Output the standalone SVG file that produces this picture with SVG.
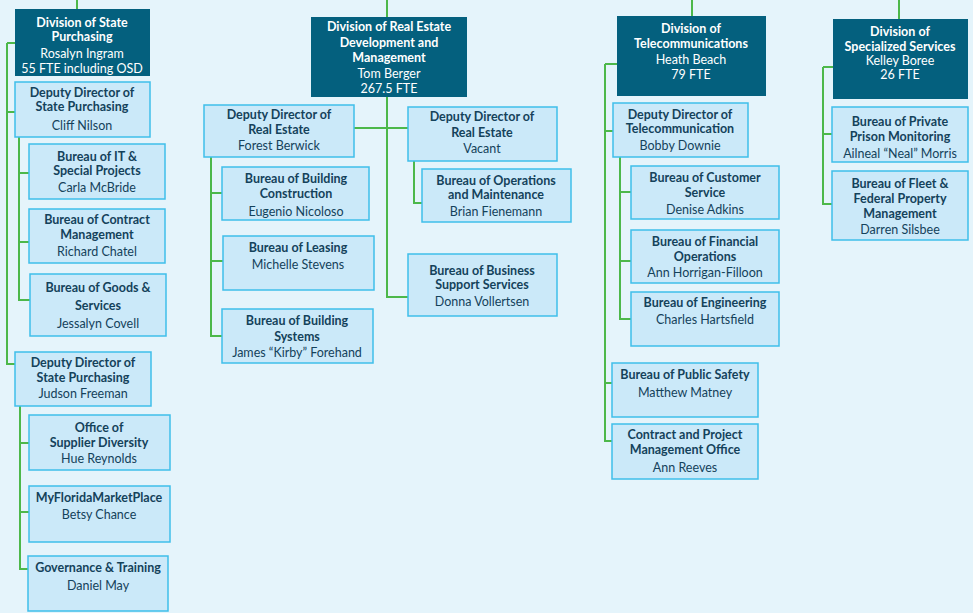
<svg xmlns="http://www.w3.org/2000/svg" width="973" height="613" viewBox="0 0 973 613">
<style>
.bg{fill:#e5f4fb}
.dv{fill:#04607e}
.bx{fill:#cbe9f9;stroke:#3fbeea;stroke-width:1.5}
text{font-family:Lato,"Open Sans","Liberation Sans",sans-serif;font-size:12.5px;text-anchor:middle;dominant-baseline:central}
.t{font-weight:bold;fill:#14425b}
.n{fill:#14425b}
.wt{font-weight:bold;fill:#ffffff}
.wn{fill:#ffffff}
.ln{fill:none;stroke:#4db84a;stroke-width:2}
</style>
<rect class="bg" x="0" y="0" width="973" height="613"/>
<g id="connectors">
<path class="ln" d="M77 0V9M7 43H15M7 43V364H15M7 112H15M19 137V300H30M19 173H29M19 242H29"/>
<path class="ln" d="M20 406V569H28M20 443H29M20 512H29"/>
<path class="ln" d="M387 0V17M387 97V297H408M354 128H408M211 157V336H222M211 193H222M211 261H223M414 161V203H422"/>
<path class="ln" d="M692 0V16M605 64H617M605 64V441H612M605 131H613M605 383H612M620 157V319H631M620 192H631M620 261H631"/>
<path class="ln" d="M899 0V19M823 67H833M823 67V204H832M823 134H832"/>
</g>
<g id="div-state-purchasing">
<rect class="dv" x="15" y="9" width="135" height="67"/>
<text class="wt" x="82" y="22">Division of State</text>
<text class="wt" x="82" y="36">Purchasing</text>
<text class="wn" x="82" y="53">Rosalyn Ingram</text>
<text class="wn" x="82" y="68">55 FTE including OSD</text>
</g>
<g id="dep-cliff">
<rect class="bx" x="15" y="82" width="135" height="55"/>
<text class="t" x="82" y="92">Deputy Director of</text>
<text class="t" x="82" y="106">State Purchasing</text>
<text class="n" x="82" y="125">Cliff Nilson</text>
</g>
<g id="bur-it">
<rect class="bx" x="29" y="144" width="136" height="55"/>
<text class="t" x="97" y="156">Bureau of IT &amp;</text>
<text class="t" x="97" y="170">Special Projects</text>
<text class="n" x="97" y="187">Carla McBride</text>
</g>
<g id="bur-contract">
<rect class="bx" x="29" y="209" width="136" height="54"/>
<text class="t" x="97" y="219">Bureau of Contract</text>
<text class="t" x="97" y="234">Management</text>
<text class="n" x="97" y="251">Richard Chatel</text>
</g>
<g id="bur-goods">
<rect class="bx" x="30" y="274" width="136" height="62"/>
<text class="t" x="98" y="287">Bureau of Goods &amp;</text>
<text class="t" x="98" y="305">Services</text>
<text class="n" x="98" y="323">Jessalyn Covell</text>
</g>
<g id="dep-judson">
<rect class="bx" x="15" y="352" width="136" height="54"/>
<text class="t" x="83" y="362">Deputy Director of</text>
<text class="t" x="83" y="377">State Purchasing</text>
<text class="n" x="83" y="393">Judson Freeman</text>
</g>
<g id="off-supplier">
<rect class="bx" x="29" y="415" width="141" height="55"/>
<text class="t" x="99" y="427">Office of</text>
<text class="t" x="99" y="442">Supplier Diversity</text>
<text class="n" x="99" y="458">Hue Reynolds</text>
</g>
<g id="mfmp">
<rect class="bx" x="29" y="486" width="141" height="56"/>
<text class="t" x="99" y="497">MyFloridaMarketPlace</text>
<text class="n" x="99" y="514">Betsy Chance</text>
</g>
<g id="governance">
<rect class="bx" x="28" y="556" width="140" height="55"/>
<text class="t" x="98" y="567">Governance &amp; Training</text>
<text class="n" x="98" y="585">Daniel May</text>
</g>
<g id="div-real-estate">
<rect class="dv" x="311" y="17" width="156" height="80"/>
<text class="wt" x="389" y="26">Division of Real Estate</text>
<text class="wt" x="389" y="42">Development and</text>
<text class="wt" x="389" y="57">Management</text>
<text class="wn" x="389" y="73">Tom Berger</text>
<text class="wn" x="389" y="88">267.5 FTE</text>
</g>
<g id="dep-forest">
<rect class="bx" x="204" y="105" width="150" height="52"/>
<text class="t" x="279" y="114">Deputy Director of</text>
<text class="t" x="279" y="129">Real Estate</text>
<text class="n" x="279" y="145">Forest Berwick</text>
</g>
<g id="bur-construction">
<rect class="bx" x="222" y="167" width="147" height="53"/>
<text class="t" x="296" y="178">Bureau of Building</text>
<text class="t" x="296" y="193">Construction</text>
<text class="n" x="296" y="211">Eugenio Nicoloso</text>
</g>
<g id="bur-leasing">
<rect class="bx" x="223" y="236" width="151" height="54"/>
<text class="t" x="298" y="247">Bureau of Leasing</text>
<text class="n" x="298" y="264">Michelle Stevens</text>
</g>
<g id="bur-systems">
<rect class="bx" x="222" y="309" width="151" height="54"/>
<text class="t" x="297" y="320">Bureau of Building</text>
<text class="t" x="297" y="336">Systems</text>
<text class="n" x="297" y="352">James “Kirby” Forehand</text>
</g>
<g id="dep-vacant">
<rect class="bx" x="408" y="107" width="149" height="54"/>
<text class="t" x="482" y="116">Deputy Director of</text>
<text class="t" x="482" y="132">Real Estate</text>
<text class="n" x="482" y="148">Vacant</text>
</g>
<g id="bur-ops">
<rect class="bx" x="422" y="169" width="149" height="53"/>
<text class="t" x="496" y="180">Bureau of Operations</text>
<text class="t" x="496" y="194">and Maintenance</text>
<text class="n" x="496" y="211">Brian Fienemann</text>
</g>
<g id="bur-business">
<rect class="bx" x="408" y="254" width="149" height="62"/>
<text class="t" x="482" y="270">Bureau of Business</text>
<text class="t" x="482" y="284">Support Services</text>
<text class="n" x="482" y="301">Donna Vollertsen</text>
</g>
<g id="div-telecom">
<rect class="dv" x="617" y="16" width="149" height="80"/>
<text class="wt" x="691" y="28">Division of</text>
<text class="wt" x="691" y="43">Telecommunications</text>
<text class="wn" x="691" y="59">Heath Beach</text>
<text class="wn" x="691" y="74">79 FTE</text>
</g>
<g id="dep-bobby">
<rect class="bx" x="613" y="103" width="135" height="54"/>
<text class="t" x="680" y="114">Deputy Director of</text>
<text class="t" x="680" y="128">Telecommunication</text>
<text class="n" x="680" y="145">Bobby Downie</text>
</g>
<g id="bur-customer">
<rect class="bx" x="631" y="166" width="148" height="53"/>
<text class="t" x="705" y="177">Bureau of Customer</text>
<text class="t" x="705" y="192">Service</text>
<text class="n" x="705" y="209">Denise Adkins</text>
</g>
<g id="bur-financial">
<rect class="bx" x="631" y="230" width="148" height="53"/>
<text class="t" x="705" y="241">Bureau of Financial</text>
<text class="t" x="705" y="256">Operations</text>
<text class="n" x="705" y="272">Ann Horrigan-Filloon</text>
</g>
<g id="bur-engineering">
<rect class="bx" x="631" y="292" width="148" height="54"/>
<text class="t" x="705" y="302">Bureau of Engineering</text>
<text class="n" x="705" y="319">Charles Hartsfield</text>
</g>
<g id="bur-public-safety">
<rect class="bx" x="612" y="363" width="146" height="54"/>
<text class="t" x="685" y="374">Bureau of Public Safety</text>
<text class="n" x="685" y="392">Matthew Matney</text>
</g>
<g id="contract-office">
<rect class="bx" x="612" y="424" width="146" height="55"/>
<text class="t" x="685" y="434">Contract and Project</text>
<text class="t" x="685" y="449">Management Office</text>
<text class="n" x="685" y="467">Ann Reeves</text>
</g>
<g id="div-specialized">
<rect class="dv" x="833" y="19" width="135" height="80"/>
<text class="wt" x="900" y="31">Division of</text>
<text class="wt" x="900" y="46">Specialized Services</text>
<text class="wn" x="900" y="60">Kelley Boree</text>
<text class="wn" x="900" y="74">26 FTE</text>
</g>
<g id="bur-prison">
<rect class="bx" x="832" y="107" width="136" height="55"/>
<text class="t" x="900" y="121">Bureau of Private</text>
<text class="t" x="900" y="136">Prison Monitoring</text>
<text class="n" x="900" y="153">Ailneal “Neal” Morris</text>
</g>
<g id="bur-fleet">
<rect class="bx" x="832" y="171" width="136" height="69"/>
<text class="t" x="900" y="183">Bureau of Fleet &amp;</text>
<text class="t" x="900" y="198">Federal Property</text>
<text class="t" x="900" y="213">Management</text>
<text class="n" x="900" y="229">Darren Silsbee</text>
</g>
</svg>
